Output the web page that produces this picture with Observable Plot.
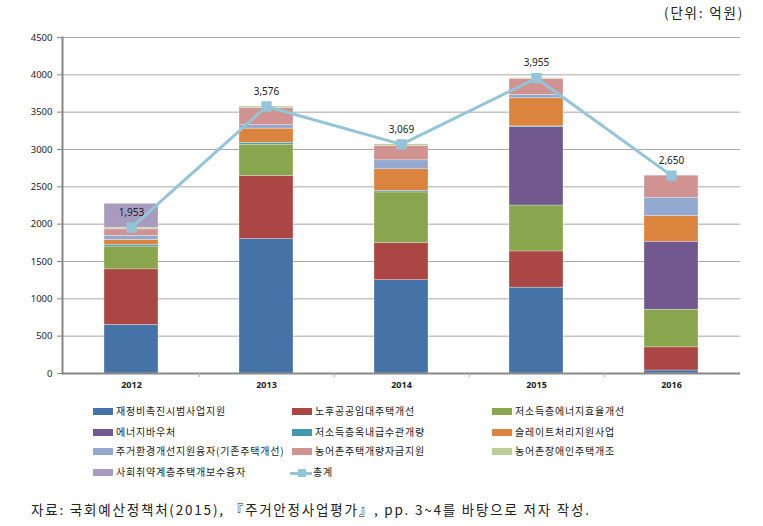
<!DOCTYPE html>
<html><head><meta charset="utf-8">
<script src="https://cdn.jsdelivr.net/npm/d3@7"></script>
<script src="https://cdn.jsdelivr.net/npm/@observablehq/plot@0.6"></script>
<style>
body{margin:0;background:#fff;font-family:"Noto Sans CJK KR","Noto Sans",sans-serif;}
#wrap{position:relative;width:763px;height:526px;overflow:hidden;}
#unit{position:absolute;right:19px;top:2px;font-size:13.5px;letter-spacing:1.8px;color:#222;}
#chart{position:absolute;left:0;top:0;}
.lg{position:absolute;font-size:10px;letter-spacing:0.8px;color:#222;white-space:nowrap;line-height:12px;}
.sw{position:absolute;width:20px;height:7px;}
#cap{position:absolute;left:31px;top:499px;font-size:13.5px;letter-spacing:1.8px;color:#222;white-space:nowrap;}
</style></head>
<body><div id="wrap"><div id="unit">(단위: 억원)</div><div id="chart"></div><div id="cap">자료: 국회예산정책처(2015), 『주거안정사업평가』, pp. 3~4를 바탕으로 저자 작성.</div></div>
<script>
const years = ["2012","2013","2014","2015","2016"];
const seriesNames = ["재정비촉진시범사업지원","노후공공임대주택개선","저소득층에너지효율개선","에너지바우처","저소득층옥내급수관개량","슬레이트처리지원사업","주거환경개선지원융자(기존주택개선)","농어촌주택개량자금지원","농어촌장애인주택개조","사회취약계층주택개보수융자"];
const seriesColors = ["#4572A7","#AA4643","#89A54E","#71588F","#4198AF","#DB843D","#93A9CF","#D19392","#B9CD96","#A99BBD"];
const v재정비 = [650,1800,1250,1150,40];
const v노후 = [745,845,495,485,310];
const v에너지효율 = [305,420,680,615,505];
const v바우처 = [0,0,0,1050,910];
const v급수관 = [25,25,20,10,0];
const v슬레이트 = [65,190,290,375,345];
const v주거환경 = [55,45,120,45,245];
const v농어촌개량 = [85,230,195,215,295];
const v장애인 = [23,21,19,10,0];
const v사회취약 = [320,0,0,0,0];
const totals = [1953,3576,3069,3955,2650];
const totalName = "총계";
const lineColor = "#93C4D8";
const yTicks = [0,500,1000,1500,2000,2500,3000,3500,4000,4500];

const seriesValues = [v재정비,v노후,v에너지효율,v바우처,v급수관,v슬레이트,v주거환경,v농어촌개량,v장애인,v사회취약];
const data = years.flatMap((y,i)=>seriesNames.map((s,j)=>({year:y,series:s,value:seriesValues[j][i]})));
const totalData = years.map((y,i)=>({year:y,total:totals[i]}));
const fmt = d3.format(",");

const chart = Plot.plot({
  width:763, height:400,
  marginLeft:62, marginRight:23, marginTop:37, marginBottom:27,
  style:{fontFamily:"'Noto Sans','DejaVu Sans',sans-serif",fontSize:"9.5px",color:"#222",background:"transparent"},
  x:{domain:years,paddingInner:0.6,paddingOuter:0.3,label:null},
  y:{domain:[0,4500],label:null},
  color:{domain:seriesNames,range:seriesColors},
  marks:[
    Plot.gridY(yTicks,{stroke:"#a8a8a8",strokeOpacity:1,strokeWidth:1}),
    Plot.barY(data,{x:"year",y:"value",fill:"series",order:seriesNames,stroke:"#fff",strokeOpacity:0.6,strokeWidth:0.5}),
    Plot.ruleY([0],{stroke:"#888",strokeWidth:2}),
    Plot.frame({anchor:"left",stroke:"#888",strokeWidth:2}),
    Plot.ruleX(years.slice(0,4),{x:d=>d,dx:67.8,y1:0,y2:0,insetBottom:-4,stroke:"#aaa"}),
    Plot.axisY(yTicks,{tickSize:5,tickPadding:5,stroke:"#888",fontSize:9.5,tickFormat:d=>String(d),label:null}),
    Plot.axisX({tickSize:0,tickPadding:8,fontWeight:"bold",fontSize:9,label:null}),
    Plot.line(totalData,{x:"year",y:"total",stroke:lineColor,strokeWidth:3}),
    Plot.dot(totalData,{x:"year",y:"total",symbol:"square",r:5,fill:lineColor,stroke:lineColor}),
    Plot.text(totalData,{x:"year",y:"total",text:d=>fmt(d.total),dy:-15,fontSize:10,fill:"#222"})
  ]
});
document.getElementById("chart").appendChild(chart);

// legend
const wrap = document.getElementById("wrap");
const colX = [93,292,492];
const rowY = [412,433,452,473];
const items = seriesNames.map((s,i)=>({name:s,color:seriesColors[i],line:false}));
items.push({name:totalName,color:lineColor,line:true});
items.forEach((it,i)=>{
  const c = i%3, r = Math.floor(i/3);
  const sw = document.createElement("div");
  sw.className="sw";
  if(it.line){
    sw.style.cssText=`left:${colX[c]-2}px;top:${rowY[r]-1}px;width:22px;height:3px;background:${it.color};`;
    const m=document.createElement("div");
    m.style.cssText=`position:absolute;left:${colX[c]+6}px;top:${rowY[r]-4}px;width:8px;height:8px;background:${it.color};`;
    wrap.appendChild(m);
  } else {
    sw.style.left=colX[c]+"px"; sw.style.top=(rowY[r]-4)+"px"; sw.style.background=it.color;
  }
  wrap.appendChild(sw);
  const t=document.createElement("div");
  t.className="lg"; t.textContent=it.name;
  t.style.left=(colX[c]+(it.line?21:23))+"px"; t.style.top=(rowY[r]-7)+"px";
  wrap.appendChild(t);
});
</script></body></html>
